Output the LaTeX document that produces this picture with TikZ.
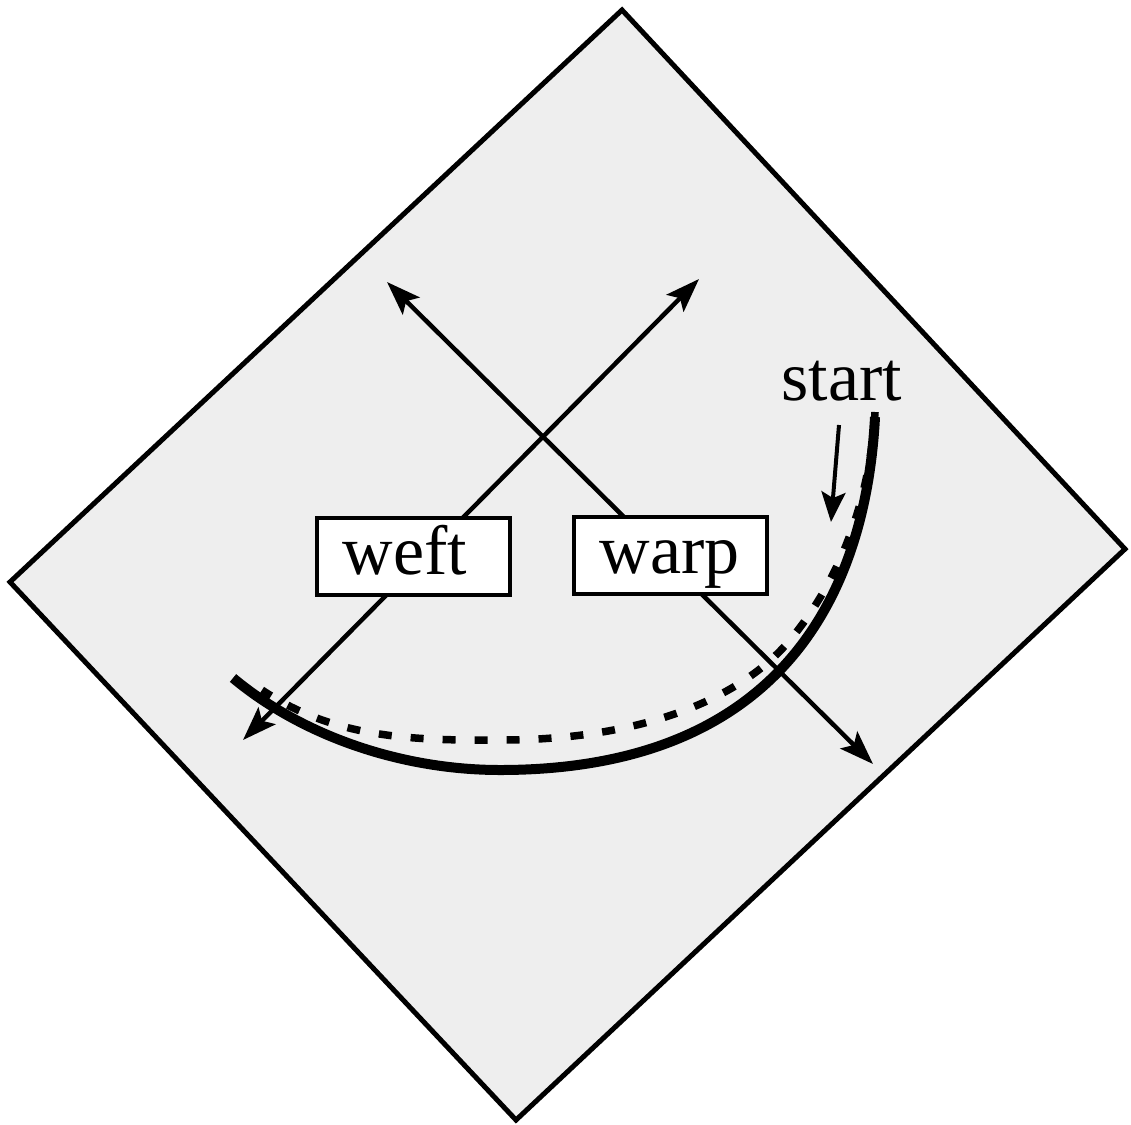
\documentclass[tikz,border=0pt]{standalone}
\usepackage{fontspec}
\setmainfont{Liberation Serif}
\usetikzlibrary{arrows.meta}
\definecolor{cloth}{RGB}{238,238,238}

\tikzset{
	thread/.style={line width=4.5pt,{Stealth[length=34pt,width=24pt,inset=7pt]}-{Stealth[length=34pt,width=24pt,inset=7pt]}},
	label box/.style={draw,fill=white,line width=4pt,text height=56pt,text depth=21pt,text width=141pt,inner xsep=26pt,inner ysep=0pt,align=left,font=\fontsize{70}{74}\selectfont}
}

\begin{document}
\begin{tikzpicture}[x=1pt,y=-1pt]
		\useasboundingbox (0,0) rectangle (1131,1124);
		% the square of cloth
		\draw [line width=5pt,fill=cloth] (622,10) -- (1125,549) -- (516,1120) -- (10,582) -- cycle;
		\coordinate (weft a) at (243,740);
		\coordinate (weft b) at (699,279);
		\coordinate (warp a) at (387,282);
		\coordinate (warp b) at (873,764);
		\draw [thread] (weft a) -- (weft b);
		\draw [thread] (warp a) -- (warp b);
		\node [label box,anchor=base] (weft) at (413,574) {weft};
		\node [label box,anchor=base] (warp) at (670,573) {warp};
		% cutting path
		\draw [line width=7.5pt,dash pattern=on 13pt off 19pt] (875,412) .. controls (870,500) and (840,580) .. (790,640) .. controls (740,700) and (640,740) .. (500,740) .. controls (400,741) and (330,735) .. (262,690);
		\draw [line width=10pt] (233,678) .. controls (305,738) and (405,770) .. (500,770) .. controls (770,770) and (865,607) .. (875,417);
		\node [anchor=base,font=\fontsize{70}{74}\selectfont,inner sep=0pt] (start) at (842,400) {start};
		\coordinate (start a) at (839,425);
		\coordinate (start b) at (831,522);
		\draw [line width=4pt,-{Stealth[length=30pt,width=24pt,inset=6pt]}] (start a) -- (start b);
	\end{tikzpicture}
\end{document}
